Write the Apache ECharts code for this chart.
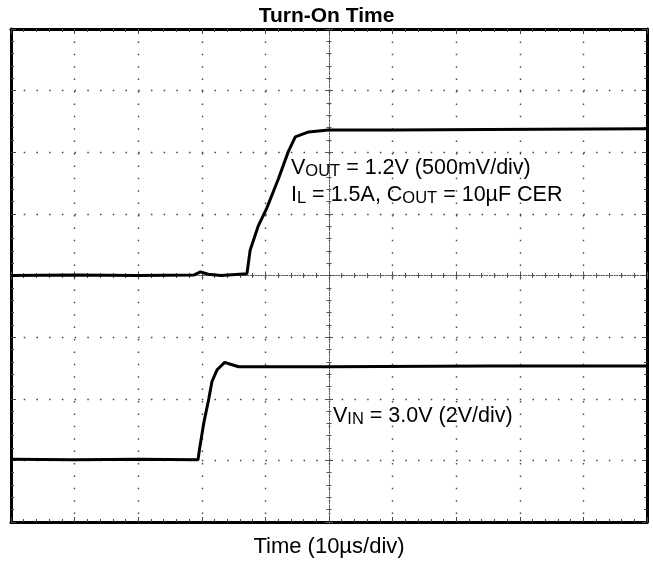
<!DOCTYPE html>
<html lang="en">
<head>
    <meta charset="UTF-8">
    <title>Turn-On Time</title>
    <script src="https://cdn.jsdelivr.net/npm/echarts@6/dist/echarts.min.js"></script>
    <style>
        html,body{margin:0;padding:0;background:#fff;}
        #main{width:653px;height:563px;}
    </style>
</head>
<body>
    <div id="main"></div>
    <script>
        // time in us (10us/div), amplitude in scope divisions (0 = centre line)
        var voutTime = [0, 10, 20, 28.8, 29.8, 31, 33, 37.1, 37.6, 38.9, 40.2, 42.05, 43.6, 44.7, 46.8, 49.9, 60, 75, 100];
        var voutDiv  = [0.00, 0.01, 0.00, 0.01, 0.06, 0.02, 0.00, 0.03, 0.41, 0.81, 1.09, 1.57, 2.01, 2.25, 2.33, 2.36, 2.36, 2.37, 2.38];
        var vinTime  = [0, 10, 20, 29.4, 29.7, 30.3, 31.1, 31.6, 32.4, 33.6, 34.5, 35.8, 50, 75, 100];
        var vinDiv   = [-2.98, -2.99, -2.98, -2.99, -2.78, -2.40, -2.00, -1.72, -1.53, -1.41, -1.44, -1.48, -1.48, -1.47, -1.47];

        var font = '"Liberation Sans", Arial, sans-serif';
        var myChart = echarts.init(document.getElementById('main'));

        function pairs(t, v) {
            var out = [];
            for (var i = 0; i < t.length; i++) out.push([t[i], v[i]]);
            return out;
        }

        // graticule dot spacing = 1/5 div
        var dotAlongY = [1.5, 62 / 5 - 1.5];
        var dotAlongX = [1.5, 63.6 / 5 - 1.5];

        function scopeAxis(o) {
            var a = {
                type: 'value',
                axisLabel: {show: false},
                axisLine: {onZero: false, lineStyle: {color: '#000', width: 3}},
                axisTick: {inside: true, length: 5, lineStyle: {color: '#444', width: 1}},
                minorTick: {show: true, splitNumber: 5, length: 3, lineStyle: {color: '#444', width: 1}},
                splitLine: {show: false}
            };
            return Object.assign(a, o);
        }
        function centreAxis(o, inside) {
            return scopeAxis(Object.assign({
                axisLine: {onZero: true, onZeroAxisIndex: o.zeroIdx, lineStyle: {color: '#555', width: 1, type: [1, 1.6]}},
                axisTick: {inside: inside, length: 4, lineStyle: {color: '#555', width: 1}},
                minorTick: {show: true, splitNumber: 5, length: 2.5, lineStyle: {color: '#555', width: 1}}
            }, o));
        }

        var labelRich = {
            n: {fontFamily: font, fontSize: 21.5, fontWeight: 'normal', color: '#000', lineHeight: 24},
            s: {fontFamily: font, fontSize: 16.5, fontWeight: 'normal', color: '#000', padding: [7, 0, 0, 0]}
        };

        var option = {
            animation: false,
            backgroundColor: '#fff',
            title: [
                {text: 'Turn-On Time', left: 'center', top: 1,
                 textStyle: {fontFamily: font, fontWeight: 'bold', fontSize: 21, color: '#000'}},
                {text: '{n|V}{s|OUT}{n| = 1.2V (500mV/div)}', left: 286, top: 151, textStyle: {rich: labelRich}},
                {text: '{n|I}{s|L}{n| = 1.5A, C}{s|OUT}{n| = 10µF CER}', left: 286, top: 178, textStyle: {rich: labelRich}},
                {text: '{n|V}{s|IN}{n| = 3.0V (2V/div)}', left: 328, top: 399, textStyle: {rich: labelRich}}
            ],
            grid: {left: 11, top: 29, width: 636, height: 496},
            xAxis: [
                scopeAxis({min: 0, max: 100, interval: 10, position: 'bottom',
                    splitLine: {show: true, lineStyle: {color: '#444', width: 1.4, type: dotAlongY}},
                    name: 'Time (10µs/div)', nameLocation: 'middle', nameGap: 14,
                    nameTextStyle: {fontFamily: font, fontSize: 22, color: '#000'}}),
                scopeAxis({min: -50, max: 50, interval: 10, position: 'top'}),
                centreAxis({min: 0, max: 100, interval: 10, position: 'bottom', zeroIdx: 0}, true),
                centreAxis({min: 0, max: 100, interval: 10, position: 'bottom', zeroIdx: 0}, false)
            ],
            yAxis: [
                scopeAxis({min: -4, max: 4, interval: 1, position: 'left',
                    splitLine: {show: true, lineStyle: {color: '#444', width: 1.4, type: dotAlongX}}}),
                scopeAxis({min: -4, max: 4, interval: 1, position: 'right'}),
                centreAxis({min: -4, max: 4, interval: 1, position: 'left', zeroIdx: 1}, true),
                centreAxis({min: -4, max: 4, interval: 1, position: 'left', zeroIdx: 1}, false)
            ],
            series: [{
                name: 'VOUT',
                type: 'line',
                xAxisIndex: 0,
                yAxisIndex: 0,
                showSymbol: false,
                lineStyle: {color: '#000', width: 3},
                data: pairs(voutTime, voutDiv)
            }, {
                name: 'VIN',
                type: 'line',
                xAxisIndex: 0,
                yAxisIndex: 0,
                showSymbol: false,
                lineStyle: {color: '#000', width: 3},
                data: pairs(vinTime, vinDiv)
            }]
        };
        myChart.setOption(option);
    </script>
</body>
</html>
